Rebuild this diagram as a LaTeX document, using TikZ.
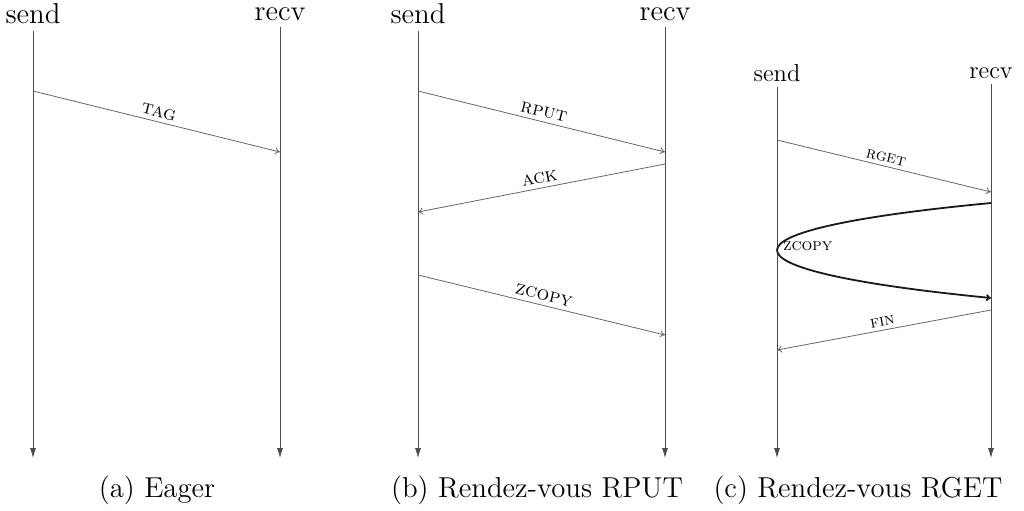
\documentclass[tikz,border=0pt]{standalone}
\usetikzlibrary{arrows.meta}
\begin{document}
\begin{tikzpicture}[x=0.5pt,y=-0.5pt,
	life/.style={draw=black!70,-{Latex[length=5pt,width=3pt]}},
	msg/.style={draw=black!60,-{To[length=2.5pt,width=3.5pt]}},
	lbl/.style={font=\scshape,sloped,above=1pt,inner sep=1pt}]
	\useasboundingbox (0,0) rectangle (1024,510);
	% lifelines
	\foreach \n/\x/\t/\y/\s in {as/33/send/14/1,ar/280/recv/14/1,bs/418/send/14/1,br/665/recv/14/1,cs/777/send/73/0.85,cr/991/recv/73/0.85}{
		\node[font=\Large,inner sep=3pt,scale=\s] (\n) at (\x,\y) {\t};
		\coordinate (\n-end) at (\x,458);
		\draw[life] (\n) -- (\n-end);
	}
	\path
	(33,91) coordinate (a1) (280,152) coordinate (a2)
	(418,91) coordinate (b1) (665,152) coordinate (b2)
	(665,164) coordinate (b3) (418,212) coordinate (b4)
	(418,275) coordinate (b5) (665,335) coordinate (b6)
	(777,140) coordinate (c1) (991,192) coordinate (c2)
	(991,203) coordinate (c3) (991,298) coordinate (c4)
	(991,310) coordinate (c5) (777,350) coordinate (c6);
	% messages
	\foreach \p/\q/\t in {a1/a2/tag,b1/b2/rput,b3/b4/ack,b5/b6/zcopy}
	\draw[msg] (\p) -- node[lbl]{\t} (\q);
	\foreach \p/\q/\t in {c1/c2/rget,c5/c6/fin}
	\draw[msg] (\p) -- node[lbl,scale=0.85]{\t} (\q);
	\draw[msg,draw=black!90,line width=0.9pt] (c3) .. controls (706,230) and (706,270) .. (c4);
	\node[font=\scshape,scale=0.85,right,inner sep=1pt] (zc) at (781,246) {zcopy};
	% captions
	\node[font=\Large] (capa) at (157,490) {(a) Eager};
	\node[font=\Large] (capb) at (537,490) {(b) Rendez-vous RPUT};
	\node[font=\Large] (capc) at (858,490) {(c) Rendez-vous RGET};
\end{tikzpicture}
\end{document}
